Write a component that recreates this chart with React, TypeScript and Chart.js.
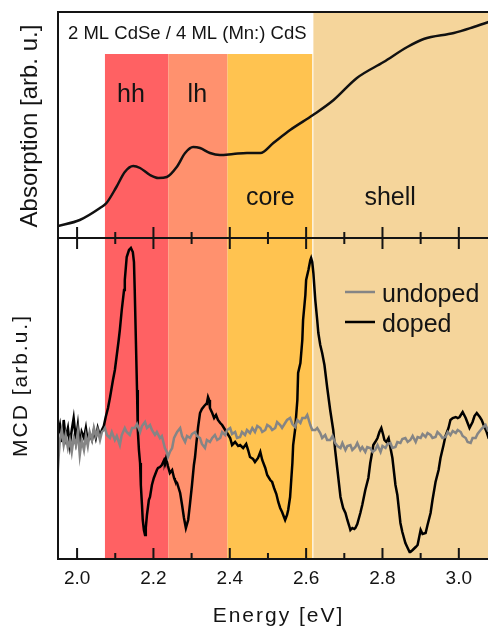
import React, { useEffect, useRef } from 'react';
import { Chart, registerables } from 'chart.js';

Chart.register(...registerables);

// ---------- data ----------
const absEnergy = [1.95, 2.007, 2.06, 2.077, 2.103, 2.125, 2.147, 2.165, 2.191, 2.213, 2.235, 2.261, 2.283, 2.304, 2.322, 2.348, 2.374, 2.409, 2.445, 2.48, 2.514, 2.558, 2.618, 2.672, 2.733, 2.803, 2.865, 2.908, 2.987, 3.039, 3.078, 3.1];
const absorption = [0.12, 0.18, 0.3, 0.35, 0.51, 0.66, 0.72, 0.7, 0.63, 0.6, 0.61, 0.71, 0.85, 0.91, 0.9, 0.85, 0.83, 0.84, 0.85, 0.85, 0.95, 1.08, 1.23, 1.38, 1.6, 1.76, 1.91, 1.99, 2.05, 2.11, 2.16, 2.19];

const dopedEnergy = [1.949, 1.955, 1.96, 1.965, 1.97, 1.976, 1.981, 1.986, 1.991, 1.997, 2.002, 2.007, 2.012, 2.018, 2.023, 2.028, 2.033, 2.039, 2.044, 2.049, 2.054, 2.06, 2.065, 2.07, 2.075, 2.081, 2.086, 2.094, 2.099, 2.104, 2.109, 2.112, 2.117, 2.123, 2.125, 2.13, 2.136, 2.141, 2.146, 2.149, 2.151, 2.154, 2.157, 2.159, 2.162, 2.165, 2.167, 2.17, 2.172, 2.175, 2.178, 2.18, 2.183, 2.188, 2.191, 2.196, 2.201, 2.204, 2.209, 2.212, 2.217, 2.222, 2.228, 2.23, 2.233, 2.238, 2.243, 2.249, 2.254, 2.256, 2.262, 2.27, 2.275, 2.28, 2.285, 2.291, 2.296, 2.301, 2.306, 2.309, 2.312, 2.317, 2.322, 2.327, 2.333, 2.338, 2.34, 2.343, 2.346, 2.348, 2.354, 2.359, 2.364, 2.369, 2.375, 2.38, 2.388, 2.393, 2.401, 2.406, 2.414, 2.422, 2.427, 2.435, 2.443, 2.448, 2.453, 2.461, 2.466, 2.474, 2.48, 2.485, 2.493, 2.498, 2.506, 2.511, 2.516, 2.522, 2.527, 2.532, 2.537, 2.543, 2.545, 2.55, 2.553, 2.558, 2.561, 2.564, 2.566, 2.571, 2.577, 2.579, 2.585, 2.59, 2.592, 2.598, 2.6, 2.606, 2.611, 2.613, 2.616, 2.619, 2.624, 2.629, 2.632, 2.637, 2.642, 2.648, 2.655, 2.663, 2.671, 2.676, 2.682, 2.69, 2.697, 2.703, 2.708, 2.713, 2.716, 2.721, 2.726, 2.729, 2.734, 2.742, 2.747, 2.755, 2.763, 2.768, 2.774, 2.776, 2.781, 2.787, 2.792, 2.797, 2.802, 2.805, 2.81, 2.816, 2.821, 2.826, 2.834, 2.839, 2.847, 2.852, 2.86, 2.866, 2.871, 2.873, 2.879, 2.887, 2.892, 2.9, 2.905, 2.913, 2.918, 2.926, 2.931, 2.939, 2.947, 2.952, 2.96, 2.965, 2.973, 2.978, 2.984, 2.992, 2.997, 3.002, 3.01, 3.018, 3.023, 3.028, 3.036, 3.041, 3.047, 3.055, 3.06, 3.065, 3.073, 3.078, 3.089, 3.1];
const mcdDoped = [-0.05, 0.05, -0.12, 0.1, -0.08, 0.02, -0.15, 0.0, 0.12, -0.1, 0.05, -0.16, -0.02, -0.08, 0.02, -0.12, -0.04, -0.1, 0.0, -0.08, 0.02, -0.06, 0.0, 0.04, 0.13, 0.22, 0.32, 0.5, 0.6, 0.75, 0.9, 1.0, 1.2, 1.4, 1.5, 1.73, 1.8, 1.82, 1.78, 1.68, 1.4, 0.9, 0.4, 0.0, -0.2, -0.33, -0.55, -0.75, -0.9, -1.0, -1.05, -0.98, -0.85, -0.7, -0.67, -0.55, -0.48, -0.45, -0.4, -0.38, -0.37, -0.35, -0.3, -0.32, -0.28, -0.36, -0.43, -0.4, -0.48, -0.5, -0.53, -0.63, -0.75, -0.88, -0.98, -0.9, -0.73, -0.55, -0.35, -0.27, -0.15, 0.03, 0.17, 0.21, 0.24, 0.26, 0.27, 0.33, 0.3, 0.22, 0.17, 0.12, 0.15, 0.1, 0.07, 0.05, 0.0, -0.03, -0.08, -0.15, -0.12, -0.16, -0.15, -0.18, -0.14, -0.2, -0.27, -0.29, -0.32, -0.28, -0.22, -0.3, -0.38, -0.45, -0.5, -0.52, -0.58, -0.64, -0.72, -0.78, -0.82, -0.88, -0.9, -0.85, -0.8, -0.67, -0.5, -0.33, -0.15, 0.0, 0.3, 0.57, 0.67, 0.9, 1.1, 1.35, 1.5, 1.6, 1.7, 1.72, 1.68, 1.57, 1.3, 1.1, 0.97, 0.85, 0.77, 0.65, 0.43, 0.2, 0.0, -0.2, -0.4, -0.67, -0.78, -0.83, -0.9, -0.96, -1.0, -0.98, -0.99, -0.98, -0.94, -0.83, -0.75, -0.6, -0.48, -0.33, -0.2, -0.15, -0.12, -0.08, -0.02, 0.02, -0.05, -0.1, -0.12, -0.08, -0.18, -0.28, -0.55, -0.65, -0.93, -1.02, -1.13, -1.18, -1.22, -1.22, -1.2, -1.17, -1.15, -1.0, -1.04, -1.03, -0.95, -0.83, -0.7, -0.52, -0.4, -0.28, -0.15, -0.06, 0.02, 0.1, 0.12, 0.13, 0.12, 0.13, 0.18, 0.12, 0.07, 0.02, 0.08, 0.14, 0.17, 0.13, 0.1, 0.05, -0.02, -0.08, -0.1, -0.06];

const undopedEnergy = [1.949, 1.952, 1.955, 1.96, 1.965, 1.97, 1.976, 1.981, 1.986, 1.991, 1.997, 2.002, 2.007, 2.012, 2.018, 2.023, 2.028, 2.033, 2.039, 2.044, 2.049, 2.054, 2.06, 2.065, 2.07, 2.073, 2.078, 2.086, 2.091, 2.099, 2.104, 2.112, 2.117, 2.125, 2.13, 2.138, 2.144, 2.151, 2.157, 2.165, 2.17, 2.178, 2.183, 2.191, 2.196, 2.204, 2.209, 2.217, 2.222, 2.23, 2.235, 2.238, 2.243, 2.249, 2.254, 2.262, 2.27, 2.275, 2.283, 2.288, 2.296, 2.301, 2.309, 2.314, 2.322, 2.327, 2.335, 2.34, 2.348, 2.354, 2.361, 2.367, 2.375, 2.38, 2.388, 2.393, 2.401, 2.406, 2.414, 2.419, 2.427, 2.432, 2.44, 2.445, 2.453, 2.459, 2.466, 2.472, 2.48, 2.485, 2.493, 2.498, 2.506, 2.511, 2.519, 2.524, 2.532, 2.537, 2.545, 2.55, 2.558, 2.564, 2.571, 2.577, 2.585, 2.59, 2.598, 2.603, 2.611, 2.616, 2.624, 2.629, 2.637, 2.642, 2.65, 2.655, 2.663, 2.669, 2.676, 2.682, 2.69, 2.695, 2.703, 2.708, 2.716, 2.721, 2.729, 2.734, 2.742, 2.747, 2.755, 2.76, 2.768, 2.774, 2.781, 2.787, 2.795, 2.8, 2.808, 2.813, 2.821, 2.826, 2.834, 2.839, 2.847, 2.852, 2.86, 2.866, 2.873, 2.879, 2.887, 2.892, 2.9, 2.905, 2.913, 2.918, 2.926, 2.931, 2.939, 2.944, 2.952, 2.957, 2.965, 2.971, 2.978, 2.984, 2.992, 2.997, 3.005, 3.01, 3.018, 3.023, 3.031, 3.036, 3.044, 3.049, 3.057, 3.062, 3.07, 3.076, 3.083, 3.094, 3.1];
const mcdUndoped = [-0.45, -0.25, -0.1, 0.0, -0.15, -0.05, -0.18, -0.1, -0.22, -0.08, -0.15, -0.02, -0.25, -0.1, -0.2, -0.06, -0.16, -0.02, -0.1, 0.02, -0.06, 0.0, -0.1, -0.02, 0.0, 0.02, -0.05, -0.08, -0.02, -0.1, -0.06, -0.15, -0.05, 0.02, -0.02, -0.05, 0.02, 0.02, 0.06, -0.02, 0.04, 0.08, 0.02, 0.05, 0.0, -0.05, -0.02, -0.08, -0.06, -0.18, -0.22, -0.27, -0.22, -0.18, -0.08, -0.02, 0.02, -0.06, -0.12, -0.06, -0.08, -0.04, -0.02, -0.06, -0.08, -0.14, -0.18, -0.1, -0.12, -0.08, -0.05, -0.1, -0.08, -0.02, -0.05, 0.0, 0.02, -0.04, -0.02, -0.08, -0.07, -0.02, -0.05, 0.0, -0.03, 0.02, -0.02, 0.04, 0.02, -0.02, 0.0, 0.05, 0.03, 0.0, 0.02, 0.08, 0.05, 0.02, 0.07, 0.1, 0.12, 0.06, 0.03, 0.1, 0.07, 0.12, 0.12, 0.15, 0.05, 0.0, 0.0, 0.02, -0.03, -0.08, -0.05, -0.1, -0.1, -0.06, -0.13, -0.16, -0.18, -0.13, -0.2, -0.16, -0.15, -0.2, -0.17, -0.13, -0.2, -0.17, -0.22, -0.17, -0.18, -0.22, -0.2, -0.15, -0.22, -0.16, -0.18, -0.14, -0.13, -0.18, -0.17, -0.12, -0.13, -0.09, -0.08, -0.12, -0.1, -0.06, -0.12, -0.07, -0.08, -0.04, -0.07, -0.03, -0.05, -0.08, -0.07, -0.02, -0.05, -0.08, -0.07, -0.02, -0.05, -0.01, -0.03, 0.0, -0.02, -0.06, -0.08, -0.12, -0.13, -0.08, -0.08, -0.04, 0.0, 0.02, 0.05, 0.0, 0.02, -0.02, 0.0];

const bandNames = ['hh', 'lh', 'core', 'shell'];
const bandStart = [2.073, 2.239, 2.394, 2.619];
const bandEnd = [2.239, 2.394, 2.616, 3.1];
const bandToTop = [false, false, false, true];
const innerBandTop = 1.84; // absorption units
const bandLabelEnergy = [2.141, 2.315, 2.506, 2.82];
const bandLabelLevel = [1.36, 1.36, 0.33, 0.33];
const bandColors = ['#FF6163', '#FF916E', '#FFC350', '#F5D59B'];

const majorTicks = [2.0, 2.2, 2.4, 2.6, 2.8, 3.0];
const minorTicks = [2.1, 2.3, 2.5, 2.7, 2.9];
const sampleTitle = '2 ML CdSe / 4 ML (Mn:) CdS';

// ---------- styling ----------
const FONT = "'Liberation Sans', Arial, Helvetica, sans-serif";
const INK = '#141414';
const CANVAS_W = 497;
const CANVAS_H = 640;

const overlay = {
  id: 'overlay',
  beforeDatasetsDraw(chart: any) {
    const { ctx, chartArea: ca, scales } = chart;
    const xs = scales.x;
    const yA = scales.yA;
    ctx.save();
    for (let i = 0; i < bandNames.length; i++) {
      const x0 = xs.getPixelForValue(bandStart[i]);
      const x1 = xs.getPixelForValue(bandEnd[i]);
      const top = bandToTop[i] ? ca.top : yA.getPixelForValue(innerBandTop);
      ctx.fillStyle = bandColors[i];
      ctx.fillRect(x0, top, x1 - x0, ca.bottom - top);
    }
    ctx.restore();
  },
  afterDatasetsDraw(chart: any) {
    const { ctx, chartArea: ca, scales } = chart;
    const xs = scales.x;
    const yA = scales.yA;
    const yM = scales.yM;
    const div = yA.bottom;
    ctx.save();
    ctx.strokeStyle = INK;
    ctx.lineWidth = 2;
    ctx.beginPath();
    ctx.moveTo(ca.left - 1, ca.top);
    ctx.lineTo(ca.right, ca.top);
    ctx.moveTo(ca.left, ca.top);
    ctx.lineTo(ca.left, ca.bottom);
    ctx.moveTo(ca.left - 1, ca.bottom);
    ctx.lineTo(ca.right, ca.bottom);
    ctx.moveTo(ca.left, div);
    ctx.lineTo(ca.right, div);
    ctx.stroke();

    ctx.beginPath();
    majorTicks.forEach((v) => {
      const px = xs.getPixelForValue(v);
      ctx.moveTo(px, ca.bottom);
      ctx.lineTo(px, ca.bottom - 11);
      ctx.moveTo(px, div - 11);
      ctx.lineTo(px, div + 11);
    });
    minorTicks.forEach((v) => {
      const px = xs.getPixelForValue(v);
      ctx.moveTo(px, ca.bottom);
      ctx.lineTo(px, ca.bottom - 6);
      ctx.moveTo(px, div - 6);
      ctx.lineTo(px, div + 6);
    });
    ctx.stroke();

    ctx.fillStyle = INK;
    ctx.textBaseline = 'alphabetic';

    // sample title
    ctx.textAlign = 'left';
    ctx.font = `18.5px ${FONT}`;
    ctx.fillText(sampleTitle, ca.left + 10, ca.top + 27);

    // band labels
    ctx.textAlign = 'center';
    ctx.font = `25px ${FONT}`;
    bandNames.forEach((name, i) => {
      ctx.fillText(name, xs.getPixelForValue(bandLabelEnergy[i]), yA.getPixelForValue(bandLabelLevel[i]));
    });

    // legend
    const ds = chart.data.datasets;
    [1, 2].forEach((di, k) => {
      const ly = yM.top + 54 + k * 30;
      ctx.strokeStyle = ds[di].borderColor;
      ctx.lineWidth = 2.5;
      ctx.beginPath();
      ctx.moveTo(ca.left + 287, ly);
      ctx.lineTo(ca.left + 317, ly);
      ctx.stroke();
      ctx.textAlign = 'left';
      ctx.font = `25px ${FONT}`;
      ctx.fillStyle = INK;
      ctx.fillText(ds[di].label, ca.left + 324, ly + 9.5);
    });

    // axis titles
    ctx.save();
    ctx.translate(ca.left - 21, (yA.top + yA.bottom) / 2 + 1);
    ctx.rotate(-Math.PI / 2);
    ctx.textAlign = 'center';
    ctx.font = `24px ${FONT}`;
    ctx.fillText('Absorption [arb. u.]', 0, 0);
    ctx.restore();

    ctx.save();
    ctx.translate(ca.left - 31.5, (yM.top + yM.bottom) / 2 - 13);
    ctx.rotate(-Math.PI / 2);
    ctx.textAlign = 'center';
    ctx.font = `21px ${FONT}`;
    (ctx as any).letterSpacing = '2px';
    ctx.fillText('MCD [arb.u.]', 0, 0);
    ctx.restore();

    ctx.save();
    ctx.textAlign = 'center';
    ctx.font = `21px ${FONT}`;
    (ctx as any).letterSpacing = '2px';
    ctx.fillText('Energy [eV]', (ca.left + ca.right) / 2 + 1, ca.bottom + 63);
    ctx.restore();

    ctx.restore();
  },
};

function toPoints(xs: number[], ys: number[]) {
  return xs.map((x, i) => ({ x, y: ys[i] }));
}

export default function App() {
  const ref = useRef<HTMLCanvasElement>(null);

  useEffect(() => {
    const canvas = ref.current;
    if (!canvas) return;
    const chart = new Chart(canvas, {
      type: 'line',
      data: {
        datasets: [
          {
            label: 'Absorption',
            data: toPoints(absEnergy, absorption),
            yAxisID: 'yA',
            borderColor: '#111111',
            borderWidth: 2.5,
            pointRadius: 0,
            cubicInterpolationMode: 'monotone',
            fill: false,
          },
          {
            label: 'undoped',
            data: toPoints(undopedEnergy, mcdUndoped),
            yAxisID: 'yM',
            borderColor: '#858585',
            borderWidth: 2.5,
            pointRadius: 0,
            tension: 0,
            fill: false,
          },
          {
            label: 'doped',
            data: toPoints(dopedEnergy, mcdDoped),
            yAxisID: 'yM',
            borderColor: '#000000',
            borderWidth: 2.5,
            pointRadius: 0,
            tension: 0,
            fill: false,
          },
        ],
      },
      options: {
        animation: false,
        responsive: false,
        devicePixelRatio: 1,
        layout: { padding: { left: 58, top: 12, right: 0, bottom: 0 } },
        plugins: { legend: { display: false }, tooltip: { enabled: false } },
        scales: {
          x: {
            type: 'linear',
            position: 'bottom',
            min: 1.95,
            max: 3.1,
            grid: { display: false, drawTicks: false },
            border: { display: false },
            ticks: {
              autoSkip: false,
              maxRotation: 0,
              padding: 8,
              color: INK,
              font: { family: FONT, size: 19 },
              callback: (v: any) => Number(v).toFixed(1),
            },
            afterBuildTicks: (s: any) => {
              s.ticks = majorTicks.map((value) => ({ value }));
            },
            afterFit: (s: any) => {
              s.height = CANVAS_H - 559;
            },
          },
          yM: {
            type: 'linear',
            display: false,
            stack: 'panels',
            stackWeight: 321,
            min: -1.29,
            max: 1.92,
          },
          yA: {
            type: 'linear',
            display: false,
            stack: 'panels',
            stackWeight: 226,
            min: 0,
            max: 2.26,
          },
        },
      },
      plugins: [overlay],
    } as any);
    return () => chart.destroy();
  }, []);

  return (
    <div
      style={{
        position: 'fixed',
        left: 0,
        top: 0,
        width: 488,
        height: 626,
        overflow: 'hidden',
        background: '#ffffff',
      }}
    >
      <canvas ref={ref} width={CANVAS_W} height={CANVAS_H} style={{ display: 'block' }} />
    </div>
  );
}
